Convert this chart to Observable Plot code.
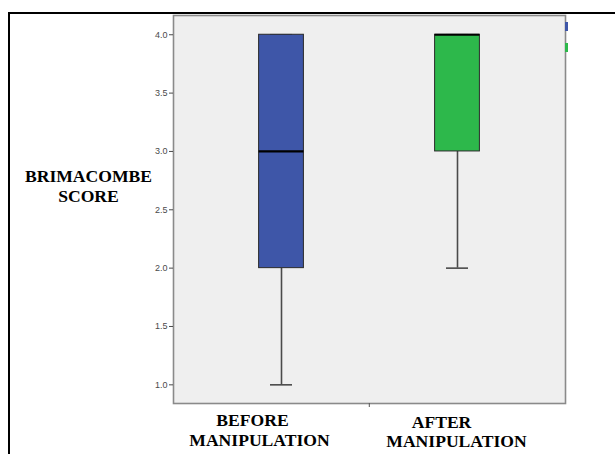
<!DOCTYPE html>
<html>
<head>
<meta charset="utf-8">
<script src="https://cdn.jsdelivr.net/npm/d3@7"></script>
<script src="https://cdn.jsdelivr.net/npm/@observablehq/plot@0.6"></script>
<style>
  html, body { margin: 0; padding: 0; background: #fff; }
  #wrap { position: relative; width: 615px; height: 454px; overflow: hidden; }
  #border { position: absolute; left: 8px; top: 12px; right: -10px; bottom: -10px;
            border-left: 2px solid #000; border-top: 2px solid #000; pointer-events: none; }
  .mk { position: absolute; left: 565px; width: 3px; height: 9px; }
</style>
</head>
<body>
<div id="wrap"><div id="border"></div></div>
<script>
// ---- data ----
const categories = ["BEFORE MANIPULATION", "AFTER MANIPULATION"];
const labelLine1 = ["BEFORE", "AFTER"];
const labelLine2 = ["MANIPULATION", "MANIPULATION"];
const mins    = [1, 2];
const q1s     = [2, 3];
const medians = [3, 4];
const q3s     = [4, 4];
const maxs    = [4, 4];
const colors  = ["#3e56a8", "#2db84b"];
const yTicks  = [1.0, 1.5, 2.0, 2.5, 3.0, 3.5, 4.0];
const yLabel  = "BRIMACOMBE\nSCORE";

const rows = categories.map((c, i) => ({
  cat: c, min: mins[i], q1: q1s[i], median: medians[i], q3: q3s[i], max: maxs[i], color: colors[i]
}));

const boxInset = 65.6;
const capInset = 77;
const serif = "'Liberation Serif', 'Times New Roman', serif";
const fs = 17.6;

const chart = Plot.plot({
  width: 615,
  height: 454,
  marginLeft: 173,
  marginRight: 50,
  marginTop: 15,
  marginBottom: 51,
  style: { fontFamily: "'Liberation Sans', Arial, sans-serif", background: "transparent", overflow: "visible" },
  x: { type: "band", domain: categories, paddingInner: 0, paddingOuter: 0.11, axis: null },
  y: { domain: [0.84, 4.165], axis: null },
  marks: [
    Plot.frame({ fill: "#efefef", stroke: "none" }),
    // whiskers
    Plot.ruleX(rows, { x: "cat", y1: "min", y2: "q1", stroke: "#4a4a4a", strokeWidth: 1.6 }),
    Plot.ruleX(rows, { x: "cat", y1: "q3", y2: "max", stroke: "#4a4a4a", strokeWidth: 1.6 }),
    // caps
    Plot.tickY(rows, { x: "cat", y: "min", insetLeft: capInset, insetRight: capInset, stroke: "#4a4a4a", strokeWidth: 1.6 }),
    Plot.tickY(rows, { x: "cat", y: "max", insetLeft: capInset, insetRight: capInset, stroke: "#4a4a4a", strokeWidth: 1.6 }),
    // boxes
    Plot.barY(rows, { x: "cat", y1: "q1", y2: "q3", fill: "color", stroke: "#2a2a2a", strokeWidth: 1,
                      insetLeft: boxInset, insetRight: boxInset }),
    // medians
    Plot.tickY(rows, { x: "cat", y: "median", insetLeft: boxInset, insetRight: boxInset, stroke: "#000", strokeWidth: 2.2 }),
    // panel border
    Plot.frame({ stroke: "#8a8a8a", strokeWidth: 1.6 }),
    // y axis
    Plot.axisY({ ticks: yTicks, tickFormat: d3.format(".1f"), tickSize: 4, tickPadding: 2,
                 fontSize: 9, color: "#4a4a4a", label: null }),
    // x axis tick between categories
    Plot.axisX({ ticks: [categories[1]], tickFormat: () => "", tickSize: 4, dx: -88.2, stroke: "#555", label: null }),
    // x labels
    Plot.text([categories[0]], { x: d => d, text: [labelLine1[0]], frameAnchor: "bottom", dx: -29, dy: 22,
      fontFamily: serif, fontWeight: "bold", fontSize: fs, fill: "#000" }),
    Plot.text([categories[0]], { x: d => d, text: [labelLine2[0]], frameAnchor: "bottom", dx: -22, dy: 42,
      fontFamily: serif, fontWeight: "bold", fontSize: fs, fill: "#000" }),
    Plot.text([categories[1]], { x: d => d, text: [labelLine1[1]], frameAnchor: "bottom", dx: -16, dy: 24,
      fontFamily: serif, fontWeight: "bold", fontSize: fs, fill: "#000" }),
    Plot.text([categories[1]], { x: d => d, text: [labelLine2[1]], frameAnchor: "bottom", dx: -1, dy: 43,
      fontFamily: serif, fontWeight: "bold", fontSize: fs, fill: "#000" }),
    // y label
    Plot.text([yLabel], { text: d => d, frameAnchor: "left", dx: -85, dy: -24, textAnchor: "middle",
      lineHeight: 1.14, fontFamily: serif, fontWeight: "bold", fontSize: fs, fill: "#000" })
  ]
});

const wrap = document.getElementById("wrap");
wrap.insertBefore(chart, wrap.firstChild);
chart.style.position = "absolute";
chart.style.left = "0";
chart.style.top = "0";

// small legend remnants at the right edge of the panel
[[colors[0], 22], [colors[1], 43]].forEach(([c, t]) => {
  const d = document.createElement("div");
  d.className = "mk";
  d.style.top = t + "px";
  d.style.background = c;
  wrap.appendChild(d);
});
</script>
</body>
</html>
